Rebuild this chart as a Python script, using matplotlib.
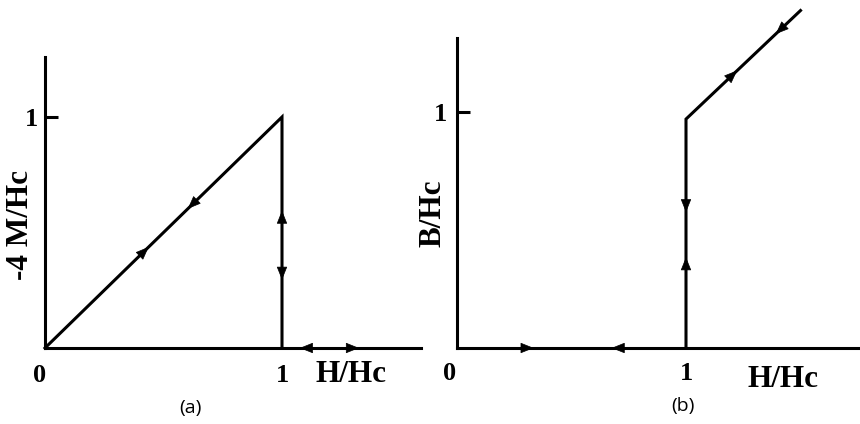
import matplotlib
matplotlib.use("Agg")
import matplotlib.pyplot as plt

# ---- data ----
a_x = [0, 1, 1]
a_y = [0, 1, 0]
b_x = [1, 1, 1.5]
b_y = [0, 0.97, 1.43]

# arrows: (x, y, dx, dy) centre position and direction in data units
a_arrows = [(0.42, 0.42, 1, 1), (0.62, 0.62, -1, -1),
            (1.0, 0.57, 0, 1), (1.0, 0.32, 0, -1),
            (1.10, 0.0, -1, 0), (1.30, 0.0, 1, 0)]
b_arrows = [(0.31, 0.0, 1, 0), (0.70, 0.0, -1, 0),
            (1.0, 0.60, 0, -1), (1.0, 0.36, 0, 1),
            (1.205, 1.159, 1, 0.92), (1.41, 1.347, -1, -0.92)]

W, H = 860, 424
fig = plt.figure(figsize=(8.6, 4.24), dpi=100)

serif = ["Liberation Serif", "DejaVu Serif"]
LW = 2.2
FS_NUM = 19
FS_LAB = 22.5


def make_axes(x0, y_axis, x1, y_top, xmax, ymax, pad):
    ax = fig.add_axes([x0 / W, (H - y_axis) / H, (x1 - x0) / W, (y_axis - y_top) / H])
    ax.set_xlim(0, xmax)
    ax.set_ylim(0, ymax)
    for s in ("top", "right"):
        ax.spines[s].set_visible(False)
    for s in ("left", "bottom"):
        ax.spines[s].set_linewidth(LW)
    ax.set_xticks([])
    ax.set_yticks([1])
    ax.set_yticklabels(["1"], fontfamily=serif, fontweight="bold", fontsize=FS_NUM)
    ax.tick_params(axis="y", direction="in", length=9, width=LW, pad=pad)
    ax.patch.set_alpha(0)
    return ax


def draw_arrows(ax, arrows):
    for (x, y, dx, dy) in arrows:
        n = (dx ** 2 + dy ** 2) ** 0.5
        ux, uy = dx / n, dy / n
        e = 0.025
        ax.annotate("", xy=(x + ux * e, y + uy * e), xytext=(x - ux * e, y - uy * e),
                    arrowprops=dict(arrowstyle="-|>,head_length=0.85,head_width=0.34",
                                    color="black", lw=0.5, shrinkA=0, shrinkB=0),
                    annotation_clip=False)


num = dict(fontfamily=serif, fontweight="bold", fontsize=FS_NUM, ha="center", va="baseline")
lab = dict(fontfamily=serif, fontweight="bold", fontsize=FS_LAB, ha="center", va="baseline")

# panel (a)
axa = make_axes(45, 348, 421, 57, (421 - 45) / 237, (348 - 57) / 231, 5)
axa.plot(a_x, a_y, color="black", lw=LW, solid_joinstyle="miter", clip_on=False)
draw_arrows(axa, a_arrows)
axa.text(-0.021, -0.147, "0", **num)
axa.text(1.0, -0.147, "1", **num)
axa.text(1.29, -0.147, "H/Hc", **lab)
axa.text(-0.105, 0.532, "-4 M/Hc", rotation=90, fontfamily=serif, fontweight="bold",
         fontsize=FS_LAB, ha="center", va="center")

# panel (b)
axb = make_axes(457, 348, 860, 38, (860 - 457) / 229, (348 - 38) / 236, 7)
axb.plot(b_x, b_y, color="black", lw=LW, solid_joinstyle="miter", clip_on=False)
draw_arrows(axb, b_arrows)
axb.text(-0.031, -0.136, "0", **num)
axb.text(1.0, -0.136, "1", **num)
axb.text(1.424, -0.165, "H/Hc", **lab)
axb.text(-0.105, 0.572, "B/Hc", rotation=90, fontfamily=serif, fontweight="bold",
         fontsize=FS_LAB, ha="center", va="center")

fig.text(190 / W, 1 - 408 / H, "(a)", ha="center", va="center", fontsize=14,
         fontfamily="Open Sans")
fig.text(683 / W, 1 - 406 / H, "(b)", ha="center", va="center", fontsize=14,
         fontfamily="Open Sans")

fig.savefig("out.png", dpi=100)
